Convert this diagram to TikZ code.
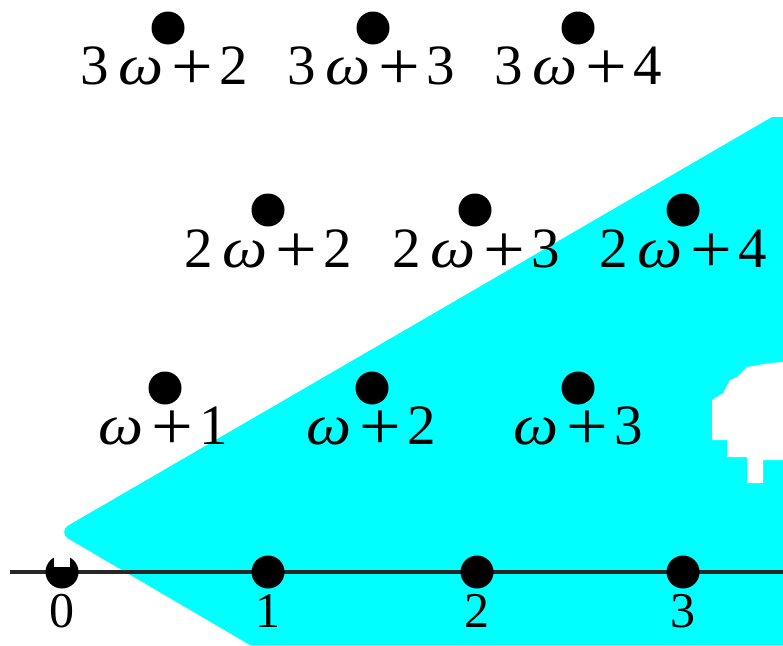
\documentclass[tikz,border=0pt]{standalone}
\usepackage{fontspec}
\usepackage{graphicx}
\setmainfont{Liberation Serif}
\definecolor{wedgecol}{RGB}{0,255,255}
\newcommand\omg{\scalebox{1.12}[1]{\textit{ω}}}
\newcommand\plusg{\raisebox{-0.1em}{\scalebox{1.3}[1.2]{+}}}
\newcommand\lblw[2]{#1\hspace{0.16em}\omg\hspace{0.15em}\plusg\hspace{0.1em}#2}
\newcommand\lblo[1]{\omg\hspace{0.15em}\plusg\hspace{0.1em}#1}
\begin{document}
\begin{tikzpicture}[x=1pt,y=-1pt,
  dot/.style={circle,fill=black,inner sep=0pt,minimum size=33pt},
  lab/.style={anchor=base,inner sep=0pt,font=\fontsize{57}{64}\selectfont},
  axlab/.style={anchor=base,inner sep=0pt,font=\fontsize{50}{58}\selectfont}]
\useasboundingbox (0,0) rectangle (783,645);
% cyan wedge
\fill[wedgecol] (783,645) -- (250,645) [rounded corners=14pt] -- (57,532) [sharp corners] -- (772,117) -- (783,117) -- cycle;
% white blob
\fill[white] (737,377) -- (747,367) -- (770,363) -- (783,362) -- (783,460) -- (763,460) -- (763,483) -- (747,483) -- (747,457) -- (727,457) -- (727,440) -- (712,440) -- (712,400) -- (723,393) -- (730,380) -- cycle;
% axis
\coordinate (axL) at (10,572);
\coordinate (axR) at (783,572);
\draw[line width=3.2pt, black!85] (axL) -- (axR);
% labels
\node[lab] (l32) at (164,84) {\lblw{3}{2}};
\node[lab] (l33) at (371,84) {\lblw{3}{3}};
\node[lab] (l34) at (578,84) {\lblw{3}{4}};
\node[lab] (l22) at (268,267) {\lblw{2}{2}};
\node[lab] (l23) at (476,267) {\lblw{2}{3}};
\node[lab] (l24) at (683,267) {\lblw{2}{4}};
\node[lab] (l11) at (163,444) {\lblo{1}};
\node[lab] (l12) at (371,444) {\lblo{2}};
\node[lab] (l13) at (578,444) {\lblo{3}};
\node[axlab] (a0) at (62,627) {0};
\node[axlab] (a1) at (268,627) {1};
\node[axlab] (a2) at (477,627) {2};
\node[axlab] (a3) at (683,627) {3};
% dots
\node[dot] (d32) at (168,28) {};
\node[dot] (d33) at (373,28) {};
\node[dot] (d34) at (578,28) {};
\node[dot] (d22) at (268,210) {};
\node[dot] (d23) at (475,210) {};
\node[dot] (d24) at (683,210) {};
\node[dot] (d11) at (165,388) {};
\node[dot] (d12) at (372,388) {};
\node[dot] (d13) at (578,388) {};
\node[dot] (p0) at (62,572) {};
\fill[white] (54,554) rectangle (70,567);
\node[dot] (p1) at (268,572) {};
\node[dot] (p2) at (477,572) {};
\node[dot] (p3) at (683,572) {};
\end{tikzpicture}
\end{document}
